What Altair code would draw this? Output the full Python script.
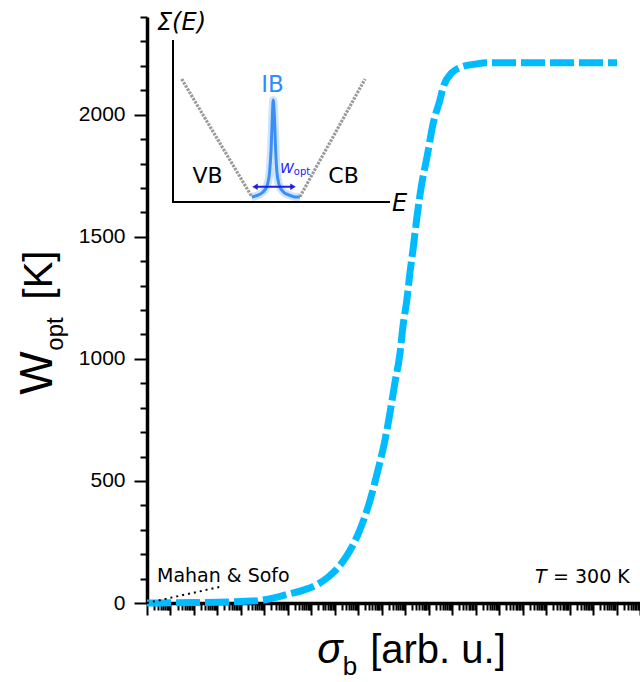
import altair as alt
import pandas as pd

# ---------------- data ----------------
# main curve: log10(sigma_b) and W_opt [K]
log_sigma = [0.0, 1.0, 2.0, 3.0, 4.0, 4.94, 6.09, 6.70, 7.24, 7.70, 8.09, 8.52,
             9.07, 9.50, 9.84, 10.14, 10.35, 10.56, 10.78, 10.90, 11.07, 11.20,
             11.33, 11.50, 11.71, 11.93, 12.18, 12.48, 12.61, 12.99, 13.33, 13.97,
             14.48, 16.0, 18.0, 20.02]
w_opt = [0, 1, 2, 3, 6, 12, 38, 54, 75, 105, 140, 195, 300, 420, 545, 668, 779,
         902, 1025, 1131, 1242, 1352, 1447, 1582, 1721, 1828, 1960, 2061, 2110,
         2172, 2193, 2207, 2213, 2213, 2213, 2213]

# Mahan & Sofo limit (dotted)
ms_log_sigma = [0.0, 3.11]
ms_w = [0, 66]

# axis ticks
y_tick_values = list(range(0, 2401, 100))
y_major = [0, 500, 1000, 1500, 2000]
x_decades = list(range(0, 21))

# inset schematic (normalised inset coordinates)
inset_axis_x = [0, 0, 1]
inset_axis_y = [1, 0, 0]
vb_x = [0.040, 0.363]
vb_y = [0.759, 0.033]
cb_x = [0.585, 0.885]
cb_y = [0.033, 0.759]
ib_x = [0.363, 0.392, 0.415, 0.433, 0.445, 0.452, 0.458, 0.462, 0.467, 0.473,
        0.479, 0.491, 0.509, 0.535, 0.562, 0.585]
ib_y = [0.031, 0.043, 0.062, 0.099, 0.185, 0.321, 0.537, 0.630, 0.537, 0.321,
        0.185, 0.099, 0.062, 0.043, 0.031, 0.031]
arrow_x = [0.378, 0.553]
arrow_y = [0.094, 0.094]
arrow_shape = ["triangle-left", "triangle-right"]

# ---------------- layout ----------------
W, H = 493, 586
PAD_L, PAD_T = 147, 17

x_vals = [float(m * 10 ** e) for e in x_decades for m in range(1, 10)] + [1e21]

curve_df = pd.DataFrame({"sigma": [10 ** d for d in log_sigma], "w": w_opt})
ms_df = pd.DataFrame({"sigma": [10 ** d for d in ms_log_sigma], "w": ms_w})

xscale = alt.Scale(type="log", domain=[1, 1e21], nice=False)
yscale = alt.Scale(domain=[0, 2400], nice=False, zero=False)

is_decade = "abs(log(datum.value)/LN10 - round(log(datum.value)/LN10)) < 0.000001"
is_major_y = "indexof(" + str(y_major) + ", datum.value) >= 0"

x_axis = alt.Axis(
    values=x_vals, tickCount=1000, labels=False, title=None, grid=False,
    domainColor="black", domainWidth=3.5, tickColor="black", tickWidth=2,
    tickSize={"condition": {"test": is_decade, "value": 12}, "value": 7},
)
y_axis = alt.Axis(
    values=y_tick_values, tickCount=1000, format="d", title=None, grid=False,
    labelExpr=is_major_y + " ? datum.label : ''",
    labelOverlap=False,
    labelFont="Liberation Sans", labelFontSize=21, labelColor="black",
    labelPadding=9,
    domainColor="black", domainWidth=3.5, tickColor="black", tickWidth=2,
    tickSize={"condition": {"test": is_major_y, "value": 13}, "value": 7},
)

curve = alt.Chart(curve_df).mark_line(
    color="#00bbff", strokeWidth=7, strokeDash=[24, 5],
    interpolate="monotone",
).encode(
    x=alt.X("sigma:Q", scale=xscale, axis=x_axis),
    y=alt.Y("w:Q", scale=yscale, axis=y_axis),
)

ms_line = alt.Chart(ms_df).mark_line(
    color="black", strokeWidth=2, strokeDash=[2, 4],
).encode(
    x=alt.X("sigma:Q", scale=xscale),
    y=alt.Y("w:Q", scale=yscale),
)

main = alt.layer(curve, ms_line)

# ---------------- inset ----------------
ixs = alt.Scale(domain=[0, 1], range=[26, 243], nice=False, zero=False)
iys = alt.Scale(domain=[0, 1], range=[185, 23], nice=False, zero=False)


def ienc(**kw):
    return dict(
        x=alt.X("ix:Q", scale=ixs, axis=None),
        y=alt.Y("iy:Q", scale=iys, axis=None),
        **kw,
    )


inset_axes = alt.Chart(pd.DataFrame({"ix": inset_axis_x, "iy": inset_axis_y,
                                     "o": [0, 1, 2]})).mark_line(
    color="black", strokeWidth=2).encode(**ienc(order="o:Q"))

vb_line = alt.Chart(pd.DataFrame({"ix": vb_x, "iy": vb_y})).mark_line(
    color="#9a9a9a", strokeWidth=3.2, strokeDash=[2.5, 1.2]).encode(**ienc())
cb_line = alt.Chart(pd.DataFrame({"ix": cb_x, "iy": cb_y})).mark_line(
    color="#9a9a9a", strokeWidth=3.2, strokeDash=[2.5, 1.2]).encode(**ienc())

ib_df = pd.DataFrame({"ix": ib_x, "iy": ib_y, "o": list(range(len(ib_x)))})
ib_glow = alt.Chart(ib_df).mark_line(
    color="#9ccaff", strokeWidth=8, opacity=0.5, strokeJoin="round",
    interpolate="monotone").encode(**ienc(order="o:Q"))
ib_core = alt.Chart(ib_df).mark_line(
    color="#3a8ef5", strokeWidth=3, strokeJoin="round",
    interpolate="monotone").encode(**ienc(order="o:Q"))

arrow_df = pd.DataFrame({"ix": arrow_x, "iy": arrow_y, "shape": arrow_shape})
arrow_line = alt.Chart(arrow_df).mark_line(color="#1f1fe0", strokeWidth=2).encode(**ienc())
arrow_heads = alt.Chart(arrow_df).mark_point(
    filled=True, color="#1f1fe0", size=40, opacity=1).encode(
    **ienc(shape=alt.Shape("shape:N", scale=None)))


def itext(txt, ix, iy, size, color="black", align="center", style="normal",
          font="DejaVu Sans"):
    return alt.Chart(pd.DataFrame({"ix": [ix], "iy": [iy], "t": [txt]})).mark_text(
        align=align, baseline="alphabetic", fontSize=size, color=color,
        fontStyle=style, font=font).encode(**ienc(text="t:N"))


inset_texts = [
    itext("Σ(E)", -0.074, 1.062, 24, align="left", style="italic"),
    itext("E", 1.009, -0.056, 24, align="left", style="italic"),
    itext("VB", 0.159, 0.117, 22),
    itext("CB", 0.786, 0.117, 22),
    itext("IB", 0.459, 0.679, 23, color="#2e8ef5"),
    itext("W", 0.493, 0.179, 14, color="#2222ee", align="left", style="italic"),
    itext("opt", 0.557, 0.165, 10, color="#2222ee", align="left"),
]

inset = alt.layer(inset_axes, vb_line, cb_line, ib_glow, ib_core, arrow_line,
                  arrow_heads, *inset_texts)


# ---------------- annotations / titles (pixel positions in the plot area) ----
def ptext(txt, x, y, size, align="center", style="normal", font="Liberation Sans",
          angle=0):
    kw = dict(align=align, baseline="alphabetic", fontSize=size, color="black",
              fontStyle=style, font=font)
    if angle:
        kw["angle"] = angle
    return alt.Chart(pd.DataFrame({"t": [txt]})).mark_text(**kw).encode(
        x=alt.value(x), y=alt.value(y), text="t:N")


annots = [
    ptext("Mahan & Sofo", 10, 565, 19, align="left", font="DejaVu Sans"),
    ptext("T", 388, 566, 19, align="left", style="italic", font="DejaVu Sans"),
    ptext("= 300 K", 406, 566, 19, align="left", font="DejaVu Sans"),
    # x title
    ptext("σ", 183, 646, 42, style="italic"),
    ptext("b", 203, 658, 26),
    ptext("[arb. u.]", 291, 646, 40),
    # y title (rotated)
    ptext("W", -95, 356, 46, angle=270),
    ptext("opt", -84, 317, 24, angle=270),
    ptext("[K]", -95, 258, 40, angle=270),
]

chart = alt.layer(main, inset, *annots).resolve_scale(
    x="independent", y="independent"
).properties(
    width=W, height=H,
    autosize=alt.AutoSizeParams(type="none"),
    padding={"left": PAD_L, "top": PAD_T, "right": 0, "bottom": 682 - PAD_T - H},
    background="white",
).configure_view(stroke=None)

chart.save("out.html", embed_options={"renderer": "svg", "actions": False})
